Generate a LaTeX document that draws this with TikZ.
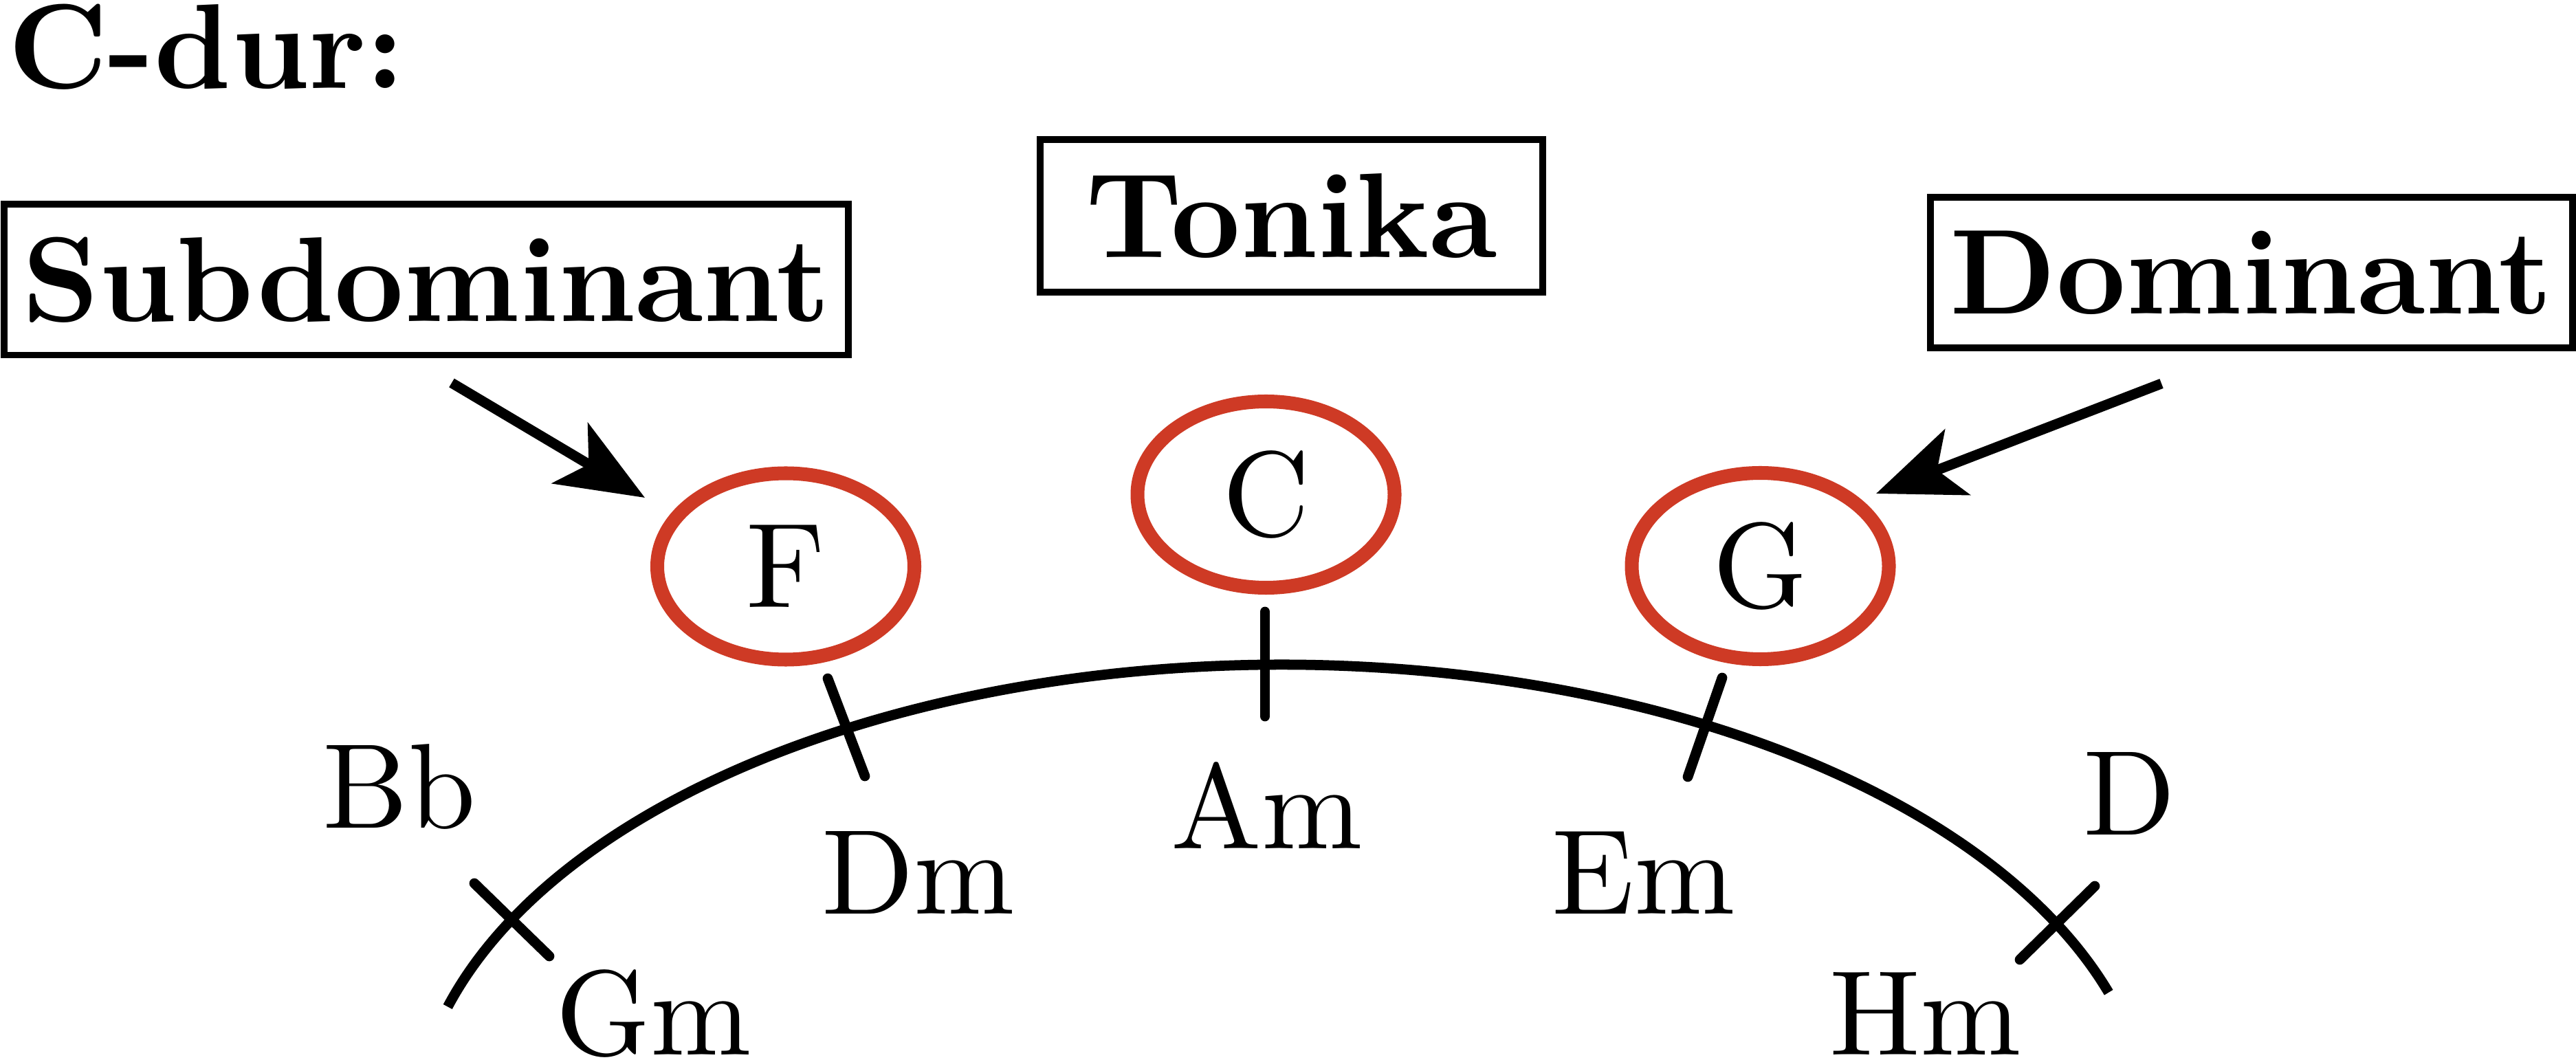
\documentclass[tikz,border=0pt]{standalone}
\usepackage{fontspec}
\setmainfont{lmroman10-regular}[Extension=.otf, BoldFont=lmroman10-bold]
\usepackage{tikz}
\usetikzlibrary{arrows.meta,shapes.geometric}
\definecolor{chordred}{RGB}{206,58,37}

\begin{document}
\begin{tikzpicture}[scale=0.5,
	funcbox/.style={draw, line width=1.42pt, minimum height=1.095cm, inner sep=0pt, font=\fontsize{25}{30}\selectfont\bfseries},
	tonic/.style={draw=chordred, ellipse, line width=2.85pt, minimum width=1.87cm, minimum height=1.355cm, inner sep=0pt, font=\fontsize{25}{30}\selectfont},
	chordname/.style={anchor=base, inner sep=0pt, font=\fontsize{25}{30}\selectfont},
	pointer/.style={-{Stealth[length=18pt, width=14.5pt, inset=4.5pt]}, line width=2.1pt},
	fifth/.style={line width=2.1pt, line cap=round}]
	\useasboundingbox (0,0) rectangle (37.47,15.41);

	\node[anchor=base west, inner sep=0pt, font=\fontsize{25}{30}\selectfont\bfseries] (key) at (0.10,14.12) {C-dur:};

	\node[funcbox, minimum width=6.14cm] (sub) at (6.20,11.34) {Subdominant};
	\node[funcbox, minimum width=3.655cm, minimum height=1.11cm] (ton) at (18.785,12.27) {Tonika};
	\node[funcbox, minimum width=4.67cm] (dom) at (32.75,11.445) {Dominant};

	\node[tonic] (F) at (11.43,7.17) {F};
	\node[tonic] (C) at (18.415,8.215) {C};
	\node[tonic] (G) at (25.605,7.175) {G};

	% circle of fifths
	\draw[line width=2.1pt] (18.65,-1.16) ++(163.8:12.64 and 6.90) arc[start angle=163.8, end angle=18, x radius=12.64, y radius=6.90];
	\draw[fifth] (6.90,2.56) -- (7.99,1.50);
	\draw[fifth] (12.04,5.54) -- (12.58,4.12);
	\draw[fifth] (18.40,6.51) -- (18.40,4.99);
	\draw[fifth] (25.05,5.55) -- (24.55,4.11);
	\draw[fifth] (30.47,2.52) -- (29.38,1.45);

	\node[chordname] (Bb) at (5.81,3.37) {Bb};
	\node[chordname] (Gm) at (9.51,0.07) {Gm};
	\node[chordname] (Dm) at (13.36,2.12) {Dm};
	\node[chordname] (Am) at (18.43,3.06) {Am};
	\node[chordname] (Em) at (23.905,2.12) {Em};
	\node[chordname] (D) at (30.975,3.27) {D};
	\node[chordname] (Hm) at (28.005,0.07) {Hm};

	\coordinate (subtail) at (6.57,9.84);
	\coordinate (subtip) at (9.38,8.17);
	\coordinate (domtail) at (31.44,9.83);
	\coordinate (domtip) at (27.29,8.23);
	\draw[pointer] (subtail) -- (subtip);
	\draw[pointer] (domtail) -- (domtip);

\end{tikzpicture}
\end{document}
